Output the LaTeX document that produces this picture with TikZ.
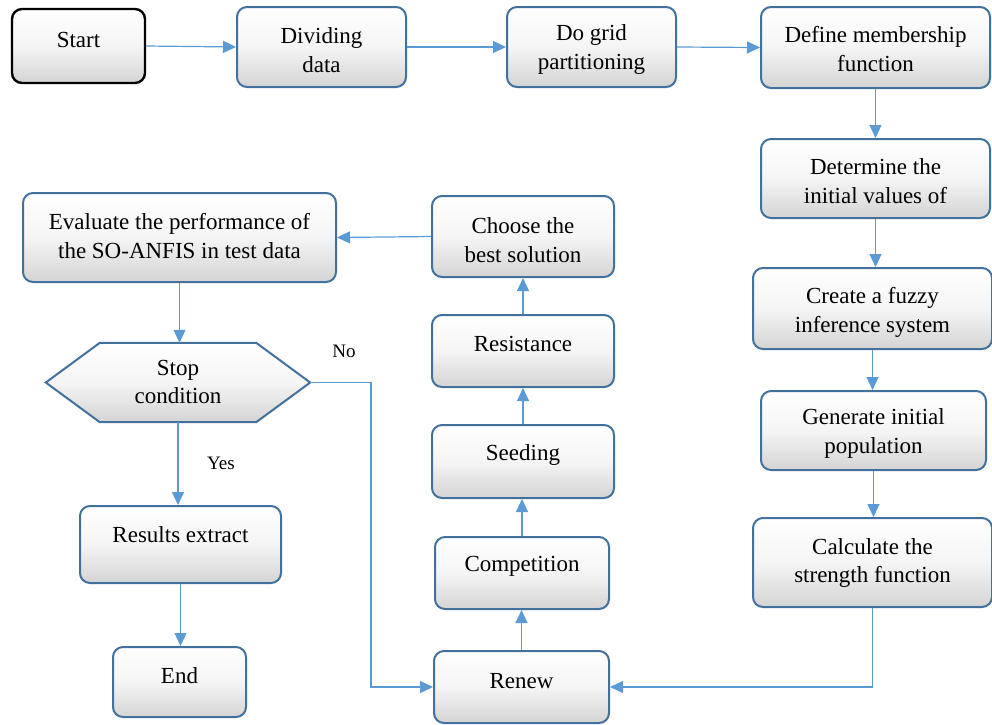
\documentclass[tikz,border=0pt]{standalone}
\usepackage{fontspec}
\setmainfont{Liberation Serif}
\newfontfamily\serfont{Liberation Serif}
\usetikzlibrary{arrows.meta}
\definecolor{boxborder}{HTML}{41719C}
\definecolor{conncol}{HTML}{5B9BD5}
\definecolor{shadebot}{HTML}{D4D4D4}
\tikzset{
  box/.style={draw=boxborder, line width=2pt, rounded corners=10pt,
    top color=white, bottom color=shadebot, middle color=white!96!black, inner sep=0pt},
  startbox/.style={box, draw=black, line width=2.4pt},
  txt/.style={font=\serfont\fontsize{23}{28.5}\selectfont, align=center, inner sep=0pt, text=black},
  conn/.style={draw=conncol, line width=1.2pt, -{Triangle[length=13pt,width=12pt]}},
  lbl/.style={font=\serfont\fontsize{19}{23}\selectfont, inner sep=0pt}
}
\begin{document}
\begin{tikzpicture}[x=1pt,y=-1pt]
\useasboundingbox (0,0) rectangle (992,724);
% boxes
\node[startbox, minimum width=133pt, minimum height=74pt] (start) at (78.5,46) {};
\node[txt] at (78.5,40) {Start};
\node[box, minimum width=169pt, minimum height=80pt] (divide) at (321.5,47) {};
\node[txt] at (321.5,50) {Dividing\\data};
\node[box, minimum width=169pt, minimum height=80pt] (grid) at (591.5,47) {};
\node[txt] at (591.5,49.5) {Do grid\\partitioning};
\node[box, minimum width=229pt, minimum height=81pt] (define) at (875.5,47.5) {};
\node[txt] at (875.5,49) {Define membership\\function};
\node[box, minimum width=229pt, minimum height=79pt] (determine) at (875.5,178.5) {};
\node[txt] at (875.5,181) {Determine the\\initial values of};
\node[box, minimum width=239pt, minimum height=81pt] (create) at (872.5,308.5) {};
\node[txt] at (872.5,312.5) {Create a fuzzy\\inference system};
\node[box, minimum width=225pt, minimum height=79pt] (generate) at (873.5,430.5) {};
\node[txt] at (873.5,433.5) {Generate initial\\population};
\node[box, minimum width=239pt, minimum height=89pt] (calc) at (872.5,562.5) {};
\node[txt] at (872.5,563) {Calculate the\\strength function};
\node[box, minimum width=175pt, minimum height=72pt] (renew) at (521.5,687) {};
\node[txt] at (521.5,681) {Renew};
\node[box, minimum width=174pt, minimum height=72pt] (competition) at (522,573) {};
\node[txt] at (522,566) {Competition};
\node[box, minimum width=182pt, minimum height=73pt] (seeding) at (523,461.5) {};
\node[txt] at (523,455) {Seeding};
\node[box, minimum width=182pt, minimum height=72pt] (resistance) at (523,351) {};
\node[txt] at (523,344) {Resistance};
\node[box, minimum width=182pt, minimum height=81pt] (choose) at (523,236.5) {};
\node[txt] at (523,240) {Choose the\\best solution};
\node[box, minimum width=313pt, minimum height=89pt] (evaluate) at (179.5,237.5) {};
\node[txt] at (179.5,236) {Evaluate the performance of\\the SO-ANFIS in test data};
% hexagon
\node[minimum width=264pt, minimum height=79pt, inner sep=0pt] (stop) at (178,382.5) {};
\path[draw=boxborder, line width=2pt, top color=white, bottom color=shadebot, middle color=white!96!black]
  (stop.west) -- ([xshift=54pt]stop.north west) -- ([xshift=-54pt]stop.north east)
  -- (stop.east) -- ([xshift=-54pt]stop.south east) -- ([xshift=54pt]stop.south west) -- cycle;
\node[txt] at (178,382) {Stop\\condition};
\node[box, minimum width=201pt, minimum height=77pt] (results) at (180.5,544.5) {};
\node[txt] at (180.5,535) {Results extract};
\node[box, minimum width=133pt, minimum height=70pt] (end) at (179.5,682) {};
\node[txt] at (179.5,676) {End};
% connectors
\draw[conn] (start.east) -- (divide.west);
\draw[conn] (divide.east) -- (grid.west);
\draw[conn] (grid.east) -- (define.west);
\draw[conn] (define.south) -- (define.south |- determine.north);
\draw[conn] (determine.south) -- (determine.south |- create.north);
\draw[conn] (create.south) -- (create.south |- generate.north);
\draw[conn] (generate.south) -- (generate.south |- calc.north);
\draw[conn] (calc.south) |- (renew.east);
\draw[conn] (renew.north) -- (renew.north |- competition.south);
\draw[conn] (competition.north) -- (competition.north |- seeding.south);
\draw[conn] (seeding.north) -- (resistance.south);
\draw[conn] (resistance.north) -- (choose.south);
\draw[conn] (choose.west) -- (evaluate.east);
\draw[conn] (evaluate.south) -- (evaluate.south |- stop.north);
\draw[conn] (stop.south) -- (stop.south |- results.north);
\draw[conn] (results.south) -- (results.south |- end.north);
\draw[conn] (stop.east) -| ([xshift=-62pt]renew.west) -- (renew.west);
% labels
\node[lbl] (nolbl) at (344,351) {No};
\node[lbl] (yeslbl) at (221,463) {Yes};
\end{tikzpicture}
\end{document}
